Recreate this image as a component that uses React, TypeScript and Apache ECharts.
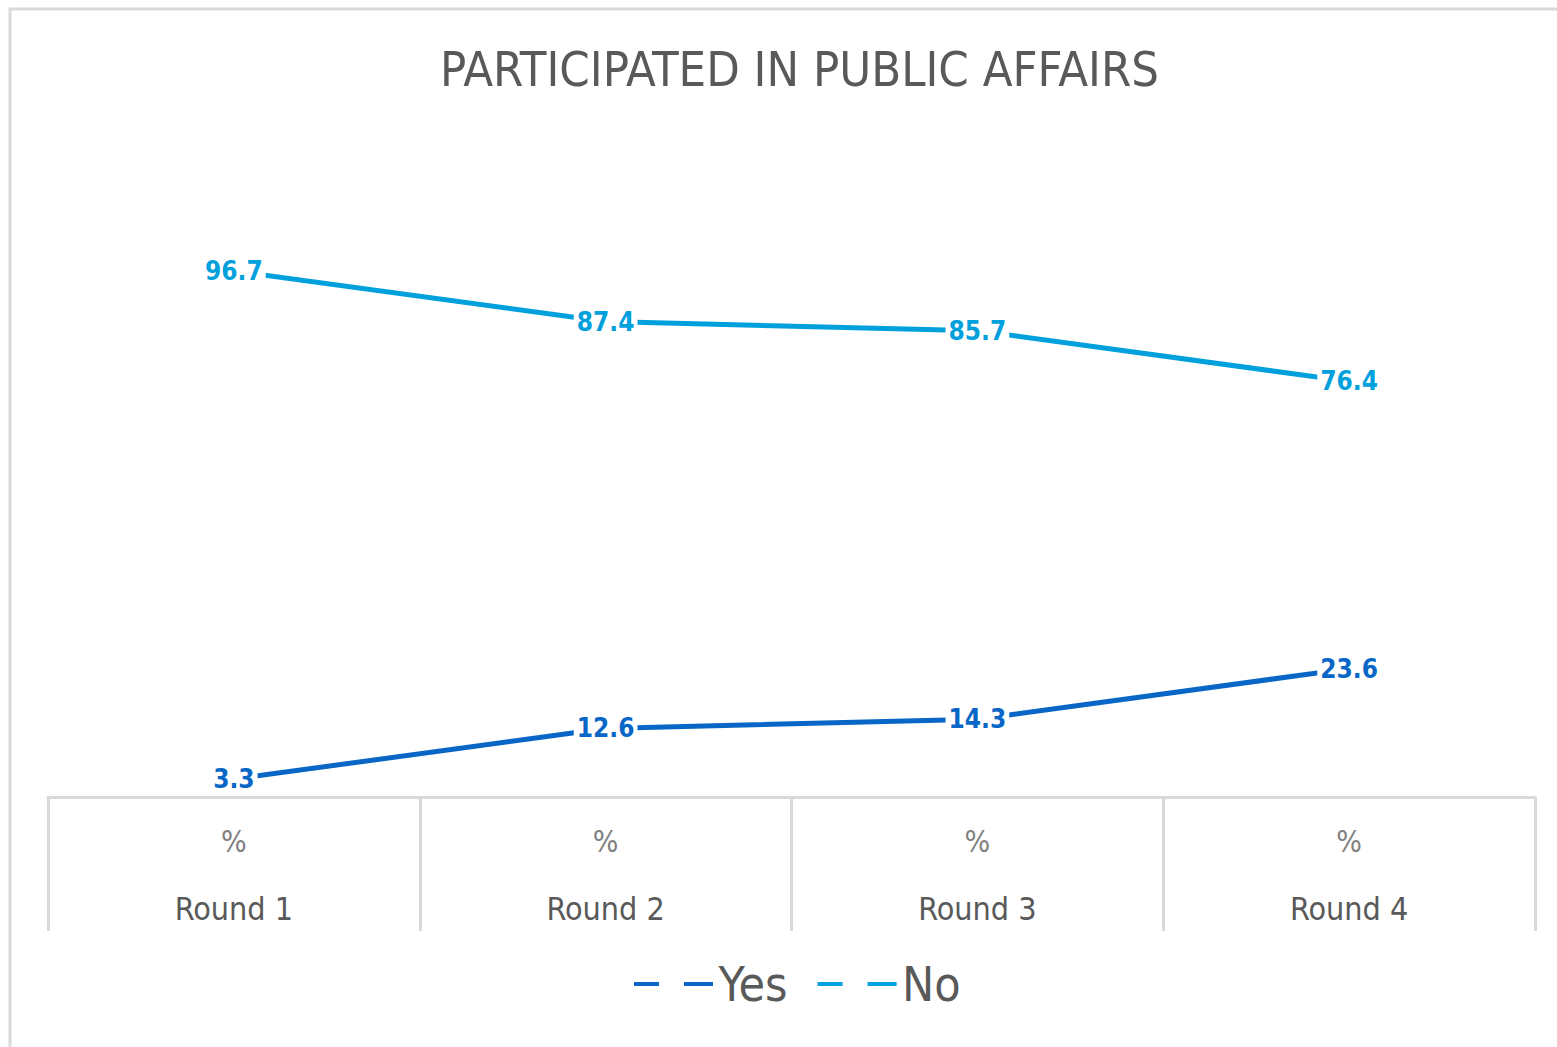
import React, { useEffect, useRef } from "react";
import * as echarts from "echarts";

const categories = ["Round 1", "Round 2", "Round 3", "Round 4"];
const unitLabel = "%";
const yesValues = [3.3, 12.6, 14.3, 23.6];
const noValues = [96.7, 87.4, 85.7, 76.4];
const titleText = "PARTICIPATED IN PUBLIC AFFAIRS";

const YES_COLOR = "#0766c6";
const NO_COLOR = "#00a0dc";
const NARROW = "'Liberation Sans Narrow', 'DejaVu Sans Condensed', 'Open Sans', sans-serif";

export default function App() {
  const ref = useRef<HTMLDivElement>(null);
  useEffect(() => {
    if (!ref.current) return;
    const chart = echarts.init(ref.current, null, { renderer: "svg" });
    const legendIcon = "path://M0,0 H25 V4 H0 Z M50,0 H79 V4 H50 Z";
    const labelStyle = (color: string) => ({
      show: true,
      position: "inside",
      color,
      fontWeight: "bold",
      fontSize: 26,
      fontFamily: NARROW,
      backgroundColor: "#ffffff",
      padding: [0, 3],
      formatter: (p: any) => Number(p.value).toFixed(1),
    });
    chart.setOption({
      animation: false,
      backgroundColor: "#ffffff",
      title: {
        text: titleText,
        left: 435,
        top: 39,
        textStyle: {
          fontSize: 48.5,
          fontWeight: "normal",
          color: "#595959",
          fontFamily: NARROW,
        },
      },
      graphic: [
        {
          type: "rect",
          shape: { x: 10, y: 9, width: 1600, height: 1100 },
          style: { fill: "none", stroke: "#d9d9d9", lineWidth: 3 },
          silent: true,
        },
      ],
      legend: {
        data: ["Yes", "No"],
        bottom: 34,
        left: 629,
        icon: legendIcon,
        itemWidth: 80,
        itemHeight: 4,
        itemGap: 30,
        textStyle: { fontSize: 48, color: "#595959", fontFamily: NARROW },
      },
      grid: { left: 48, right: 22, top: 253, bottom: 250 },
      xAxis: {
        type: "category",
        data: categories,
        boundaryGap: true,
        axisLine: { show: true, lineStyle: { color: "#d9d9d9", width: 3 } },
        axisTick: {
          show: true,
          interval: 0,
          length: 134,
          lineStyle: { color: "#d9d9d9", width: 3 },
        },
        axisLabel: {
          interval: 0,
          margin: 10,
          formatter: (v: string) => `{a|${unitLabel}}\n{b|${v}}`,
          rich: {
            a: { fontSize: 30, lineHeight: 68, color: "#7f7f7f", fontFamily: NARROW },
            b: { fontSize: 32, lineHeight: 68, color: "#595959", fontFamily: NARROW },
          },
        },
      },
      yAxis: {
        type: "value",
        min: 0,
        max: 100,
        show: false,
        splitLine: { show: false },
      },
      series: [
        {
          name: "Yes",
          type: "line",
          data: yesValues,
          symbol: "circle",
          symbolSize: 0.1,
          showSymbol: true,
          lineStyle: { color: YES_COLOR, width: 5 },
          itemStyle: { color: YES_COLOR },
          label: labelStyle(YES_COLOR),
          z: 3,
        },
        {
          name: "No",
          type: "line",
          data: noValues,
          symbol: "circle",
          symbolSize: 0.1,
          showSymbol: true,
          lineStyle: { color: NO_COLOR, width: 5 },
          itemStyle: { color: NO_COLOR },
          label: labelStyle(NO_COLOR),
          z: 3,
        },
      ],
    });
    return () => chart.dispose();
  }, []);
  return (
    <div
      ref={ref}
      style={{ position: "fixed", left: 0, top: 0, width: 1557, height: 1047 }}
    />
  );
}
